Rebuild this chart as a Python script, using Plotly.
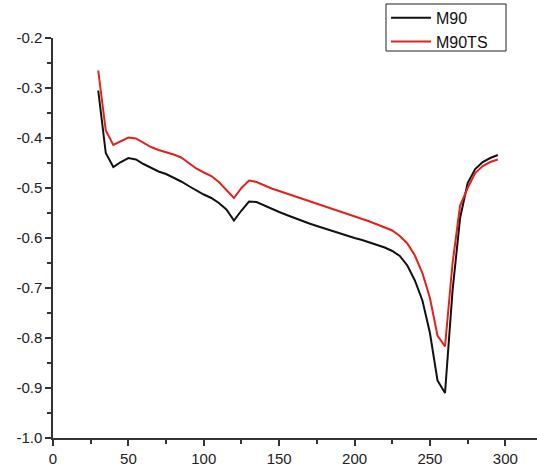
import plotly.graph_objects as go

x_vals = [30, 35, 40, 45, 50, 55, 60, 65, 70, 75, 80, 85, 90, 95, 100, 105, 110, 115,
          120, 125, 130, 135, 140, 145, 150, 155, 160, 165, 170, 175, 180, 185, 190,
          195, 200, 205, 210, 215, 220, 225, 230, 235, 240, 245, 250, 255, 260, 265,
          270, 275, 280, 285, 290, 295]

m90 = [-0.305, -0.430, -0.458, -0.448, -0.440, -0.443, -0.452, -0.460, -0.467, -0.472,
       -0.479, -0.487, -0.496, -0.505, -0.513, -0.520, -0.530, -0.543, -0.565, -0.545,
       -0.527, -0.528, -0.535, -0.541, -0.548, -0.554, -0.560, -0.566, -0.571, -0.576,
       -0.581, -0.586, -0.591, -0.596, -0.600, -0.604, -0.609, -0.614, -0.619, -0.626,
       -0.636, -0.655, -0.685, -0.725, -0.790, -0.885, -0.910, -0.705, -0.560, -0.490,
       -0.462, -0.448, -0.440, -0.434]

m90ts = [-0.265, -0.385, -0.414, -0.407, -0.399, -0.401, -0.410, -0.418, -0.424, -0.428,
         -0.433, -0.439, -0.450, -0.461, -0.469, -0.476, -0.488, -0.505, -0.520, -0.500,
         -0.485, -0.488, -0.495, -0.501, -0.506, -0.511, -0.516, -0.521, -0.526, -0.531,
         -0.536, -0.541, -0.546, -0.551, -0.556, -0.561, -0.567, -0.573, -0.579, -0.585,
         -0.596, -0.611, -0.635, -0.670, -0.720, -0.795, -0.817, -0.650, -0.535, -0.500,
         -0.470, -0.456, -0.448, -0.443]

y_tickvals = [-1.0, -0.9, -0.8, -0.7, -0.6, -0.5, -0.4, -0.3, -0.2]
y_ticktext = ["-1.0", "-0.9", "-0.8", "-0.7", "-0.6", "-0.5", "-0.4", "-0.3", "-0.2"]
x_tickvals = [0, 50, 100, 150, 200, 250, 300]
x_ticktext = ["0", "50", "100", "150", "200", "250", "300"]

fig = go.Figure()
fig.add_trace(go.Scatter(x=x_vals, y=m90, mode="lines", name="M90",
                         line=dict(color="#111111", width=2)))
fig.add_trace(go.Scatter(x=x_vals, y=m90ts, mode="lines", name="M90TS",
                         line=dict(color="#e3211c", width=2)))

axis_font = dict(family="Liberation Sans, Arial, sans-serif", size=15, color="#222222")

# legend frame
fig.add_shape(type="rect", xref="paper", yref="paper",
              x0=0.688, x1=0.936, y0=0.9675, y1=1.085,
              line=dict(color="#222222", width=1), fillcolor="rgba(0,0,0,0)", layer="above")

fig.update_layout(
    width=537, height=473,
    margin=dict(l=53, r=0, t=38, b=35),
    plot_bgcolor="white", paper_bgcolor="white",
    font=axis_font,
    showlegend=True,
    legend=dict(x=0.688, y=1.093, xanchor="left", yanchor="top",
                borderwidth=0, bgcolor="rgba(0,0,0,0)",
                font=dict(family="Liberation Sans, Arial, sans-serif", size=16, color="#111111"),
                tracegroupgap=0, itemwidth=40),
    xaxis=dict(range=[0, 321], tickvals=x_tickvals, ticktext=x_ticktext,
               showgrid=False, zeroline=False, showline=True, linecolor="#333333",
               linewidth=1.5, ticks="outside", ticklen=6, tickwidth=1.5, tickcolor="#333333",
               minor=dict(ticks="outside", ticklen=4, tickwidth=1.5, tickcolor="#333333",
                          dtick=25, tick0=0, showgrid=False)),
    yaxis=dict(range=[-1.0, -0.2], tickvals=y_tickvals, ticktext=y_ticktext,
               showgrid=False, zeroline=False, showline=True, linecolor="#333333",
               linewidth=1.5, ticks="outside", ticklen=6, tickwidth=1.5, tickcolor="#333333",
               minor=dict(ticks="outside", ticklen=4, tickwidth=1.5, tickcolor="#333333",
                          dtick=0.05, tick0=-1.0, showgrid=False)),
)

fig.write_html("out.html")
